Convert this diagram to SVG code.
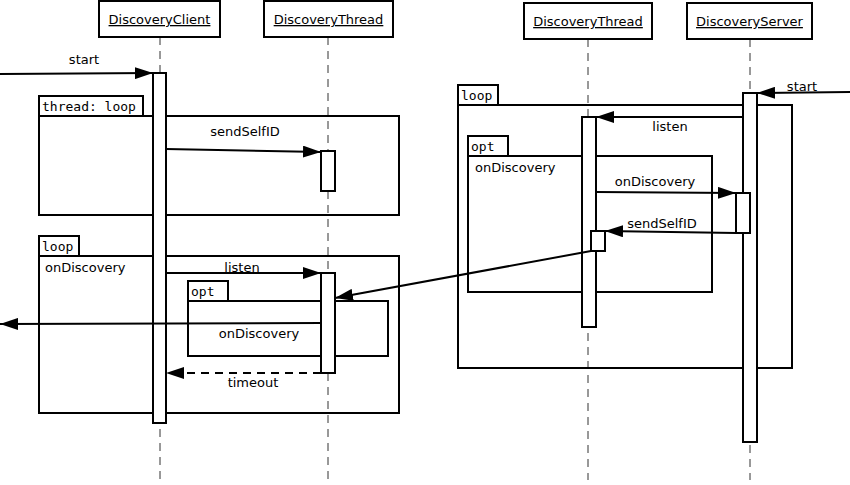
<svg xmlns="http://www.w3.org/2000/svg" width="850" height="485" viewBox="0 0 850 485">
<style>
.box{fill:#fff;stroke:#000;stroke-width:2}
.frame{fill:none;stroke:#000;stroke-width:2}
.tab{fill:#fff;stroke:#000;stroke-width:2}
.life{stroke:#333;stroke-width:1;stroke-dasharray:8 6;fill:none}
.act{fill:#fff;stroke:#000;stroke-width:2}
.msg{stroke:#000;stroke-width:2;fill:none;marker-end:url(#ah)}
.dash{stroke-dasharray:8 6}
.t{font-family:"DejaVu Sans",sans-serif;font-size:13px;fill:#000}
.name{text-decoration:underline}
.mono{font-family:"DejaVu Sans Mono",monospace;font-size:13px;fill:#000}
</style>
<defs>
<marker id="ah" markerUnits="userSpaceOnUse" markerWidth="18" markerHeight="12" refX="18" refY="6" orient="auto" viewBox="0 0 18 12">
<path d="M0,0 L18,6 L0,12 z" fill="#000"/>
</marker>
</defs>
<rect width="850" height="485" fill="#fff"/>

<g id="lifelines">
<line class="life" x1="160" y1="37" x2="160" y2="480"/>
<line class="life" x1="328" y1="37" x2="328" y2="480"/>
<line class="life" x1="588" y1="39" x2="588" y2="480"/>
<line class="life" x1="750" y1="39" x2="750" y2="480"/>
</g>

<g id="frame-thread-loop">
<rect class="frame" x="39" y="116" width="360" height="99"/>
<rect class="tab" x="39" y="96" width="104" height="20"/>
<text class="mono" x="42" y="111">thread: loop</text>
</g>
<g id="frame-loop-left">
<rect class="frame" x="39" y="256" width="360" height="157"/>
<rect class="tab" x="39" y="236" width="40" height="20"/>
<text class="mono" x="42" y="251">loop</text>
<text class="t" x="45" y="272">onDiscovery</text>
</g>
<g id="frame-opt-left">
<rect class="frame" x="188" y="301" width="200" height="55"/>
<rect class="tab" x="188" y="281" width="40" height="20"/>
<text class="mono" x="191" y="296">opt</text>
</g>
<g id="frame-loop-right">
<rect class="frame" x="458" y="105" width="334" height="263"/>
<rect class="tab" x="458" y="85" width="40" height="20"/>
<text class="mono" x="461" y="100">loop</text>
</g>
<g id="frame-opt-right">
<rect class="frame" x="468" y="156" width="244" height="136"/>
<rect class="tab" x="468" y="136" width="40" height="20"/>
<text class="mono" x="471" y="151">opt</text>
<text class="t" x="475" y="172">onDiscovery</text>
</g>

<g id="DiscoveryClient">
<rect class="box" x="99" y="1" width="121" height="36"/>
<text class="t name" x="159.5" y="24" text-anchor="middle">DiscoveryClient</text>
<rect class="act" x="153" y="73" width="13" height="350"/>
</g>
<g id="DiscoveryThread1">
<rect class="box" x="264" y="1" width="129" height="36"/>
<text class="t name" x="328.5" y="24" text-anchor="middle">DiscoveryThread</text>
<rect class="act" x="321" y="151" width="14" height="40"/>
<rect class="act" x="321" y="273" width="14" height="100"/>
</g>
<g id="DiscoveryThread2">
<rect class="box" x="524" y="3" width="128" height="36"/>
<text class="t name" x="588" y="26" text-anchor="middle">DiscoveryThread</text>
<rect class="act" x="582" y="117" width="14" height="210"/>
<rect class="act" x="591" y="231" width="14" height="20"/>
</g>
<g id="DiscoveryServer">
<rect class="box" x="687" y="3" width="125" height="36"/>
<text class="t name" x="749.5" y="26" text-anchor="middle">DiscoveryServer</text>
<rect class="act" x="743" y="93" width="14" height="349"/>
<rect class="act" x="736" y="193" width="14" height="40"/>
</g>

<g id="connectors">
<line class="msg" x1="0" y1="74" x2="153" y2="73"/>
<text class="t" x="84" y="64" text-anchor="middle">start</text>
<line class="msg" x1="166" y1="149" x2="321" y2="152"/>
<text class="t" x="245" y="136" text-anchor="middle">sendSelfID</text>
<line class="msg" x1="166" y1="273" x2="321" y2="273"/>
<text class="t" x="242" y="272" text-anchor="middle">listen</text>
<line class="msg" x1="591" y1="251" x2="335" y2="298"/>
<line class="msg" x1="321" y1="323" x2="0" y2="324"/>
<text class="t" x="259" y="338" text-anchor="middle">onDiscovery</text>
<line class="msg dash" x1="321" y1="373" x2="166" y2="373"/>
<text class="t" x="253" y="387" text-anchor="middle">timeout</text>
<line class="msg" x1="850" y1="92" x2="757" y2="93"/>
<text class="t" x="802" y="91" text-anchor="middle">start</text>
<line class="msg" x1="743" y1="117" x2="596" y2="117"/>
<text class="t" x="670" y="131" text-anchor="middle">listen</text>
<line class="msg" x1="596" y1="192" x2="736" y2="193"/>
<text class="t" x="655" y="186" text-anchor="middle">onDiscovery</text>
<line class="msg" x1="736" y1="233" x2="605" y2="231"/>
<text class="t" x="662" y="228" text-anchor="middle">sendSelfID</text>
</g>
</svg>
